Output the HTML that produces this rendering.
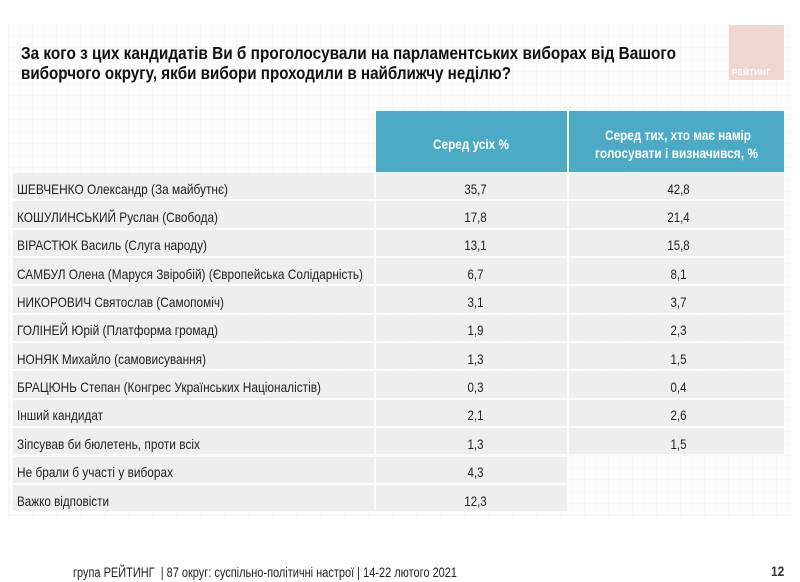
<!DOCTYPE html>
<html><head><meta charset="utf-8">
<style>
html,body{margin:0;padding:0;}
body{width:800px;height:582px;position:relative;overflow:hidden;background:#fff;font-family:"Liberation Sans","DejaVu Sans",sans-serif;}
.grid{position:absolute;left:8px;top:24px;width:784px;height:492px;background-color:#fcfcfc;
background-image:repeating-linear-gradient(0deg,rgba(0,0,0,0.02) 0 1px,transparent 1px 12px),repeating-linear-gradient(90deg,rgba(0,0,0,0.02) 0 1px,transparent 1px 12px);}
.fit{position:absolute;white-space:nowrap;transform-origin:0 50%;line-height:1;}
.title{font-weight:bold;font-size:17.5px;color:#111;}
.logo{position:absolute;left:729px;top:25px;width:55px;height:55px;background:#f0d6d1;}
.logo span{position:absolute;left:3px;bottom:3px;font-size:8px;font-weight:bold;color:#fff;letter-spacing:0.2px;}
.hdr{position:absolute;top:111px;height:61px;background:#4babc6;}
.hdrt{color:#fff;font-weight:bold;font-size:14px;}
.row{position:absolute;background:#eeeeee;}
.lbl{font-size:14px;color:#222;}
.val{position:absolute;font-size:14px;color:#222;text-align:center;line-height:1;}
.foot{font-size:14px;color:#222;}
.pg{position:absolute;left:771px;top:564px;font-size:14px;font-weight:bold;color:#333;line-height:1;transform:scaleX(0.85);transform-origin:0 50%;}
</style></head><body>
<div class="grid"></div>

<div class="fit title" style="left:21px;top:45px;--w:655px;">За кого з цих кандидатів Ви б проголосували на парламентських виборах від Вашого</div>
<div class="fit title" style="left:21px;top:65px;--w:490px;">виборчого округу, якби вибори проходили в найближчу неділю?</div>

<div class="logo"><span>РЕЙТИНГ</span></div>

<div class="hdr" style="left:376px;width:191px;"></div>
<div class="hdr" style="left:569px;width:215px;"></div>
<div class="fit hdrt" style="left:433px;top:137px;--w:76px;">Серед усіх %</div>
<div class="fit hdrt" style="left:605px;top:128px;--w:146px;">Серед тих, хто має намір</div>
<div class="fit hdrt" style="left:595px;top:146px;--w:163px;">голосувати і визначився, %</div>

<div id="rows"></div>

<div class="fit foot" style="left:73px;top:565px;--w:384px;">група РЕЙТИНГ&nbsp; | 87 округ: суспільно-політичні настрої | 14-22 лютого 2021</div>
<div class="pg">12</div>

<script>
(function(){
var data=[
["ШЕВЧЕНКО Олександр (За майбутнє)",211,"35,7","42,8"],
["КОШУЛИНСЬКИЙ Руслан (Свобода)",201,"17,8","21,4"],
["ВІРАСТЮК Василь (Слуга народу)",190,"13,1","15,8"],
["САМБУЛ Олена (Маруся Звіробій) (Європейська Солідарність)",346,"6,7","8,1"],
["НИКОРОВИЧ Святослав (Самопоміч)",207,"3,1","3,7"],
["ГОЛІНЕЙ Юрій (Платформа громад)",201,"1,9","2,3"],
["НОНЯК Михайло (самовисування)",189,"1,3","1,5"],
["БРАЦЮНЬ Степан (Конгрес Українських Націоналістів)",304,"0,3","0,4"],
["Інший кандидат",86,"2,1","2,6"],
["Зіпсував би бюлетень, проти всіх",183,"1,3","1,5"],
["Не брали б участі у виборах",156,"4,3",""],
["Важко відповісти",92,"12,3",""]
];
var h="";
var top0=173, rh=28.35;
for(var i=0;i<data.length;i++){
 var t=top0+i*rh, hh=rh-2;
 var cy=t+15.5;
 var tt=cy-6.83;
 h+='<div class="row" style="left:13px;top:'+t+'px;width:361px;height:'+hh+'px"></div>';
 h+='<div class="row" style="left:376px;top:'+t+'px;width:191px;height:'+hh+'px"></div>';
 if(data[i][3]!=="") h+='<div class="row" style="left:569px;top:'+t+'px;width:215px;height:'+hh+'px"></div>';
 h+='<div class="fit lbl" style="left:17px;top:'+tt+'px;--w:'+data[i][1]+'px">'+data[i][0]+'</div>';
 h+='<div class="val" style="left:380px;width:191px;top:'+tt+'px;transform:scaleX(0.82)">'+data[i][2]+'</div>';
 if(data[i][3]!=="") h+='<div class="val" style="left:571px;width:215px;top:'+tt+'px;transform:scaleX(0.82)">'+data[i][3]+'</div>';
}
document.getElementById("rows").innerHTML=h;
var els=document.querySelectorAll(".fit");
for(var j=0;j<els.length;j++){
 var el=els[j];
 var w=parseFloat(getComputedStyle(el).getPropertyValue("--w"));
 var a=el.getBoundingClientRect().width;
 if(w&&a) el.style.transform="scaleX("+(w/a)+")";
}
})();
</script>
</body></html>
